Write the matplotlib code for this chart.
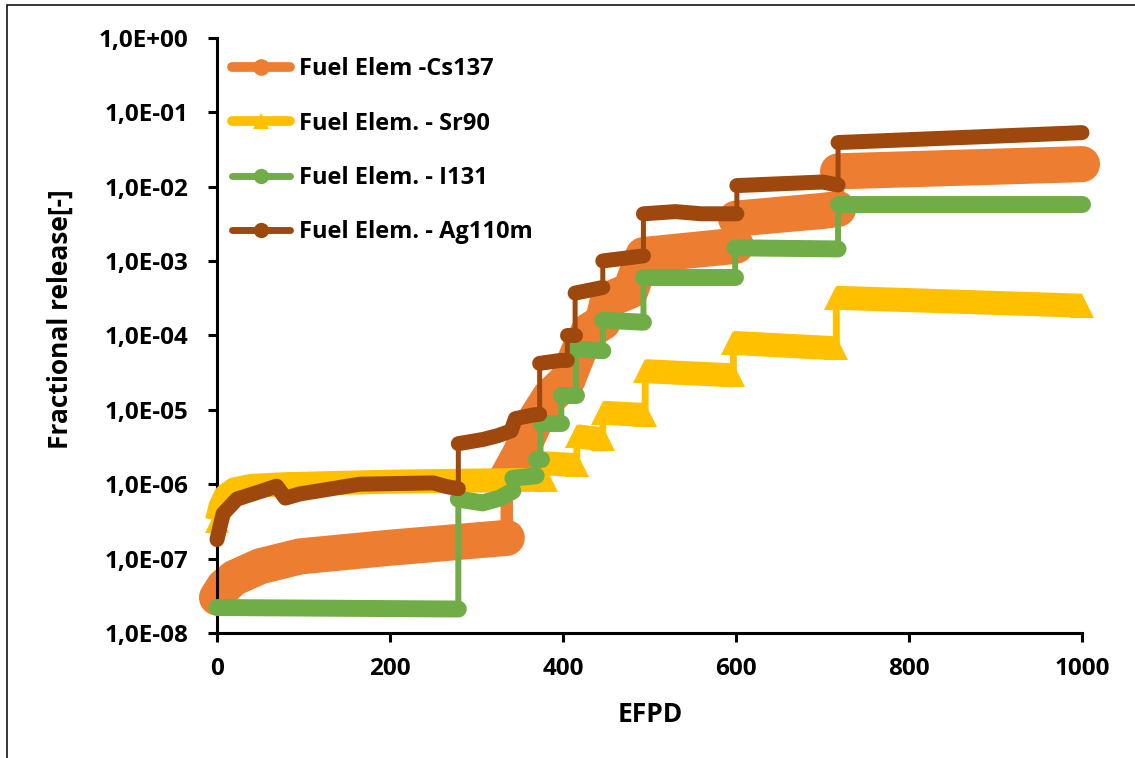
import matplotlib
matplotlib.use('Agg')
import matplotlib.pyplot as plt
from matplotlib.lines import Line2D
from matplotlib.patches import Rectangle

# ---------------- data ----------------
cs_x = [0, 8, 20, 50, 96, 200, 335, 335, 350, 370, 385, 405, 418, 430, 446, 452, 478, 493,
        600, 600, 700, 718, 718, 1000]
cs_y = [3.0e-8, 4.2e-8, 5.5e-8, 7.9e-8, 1.07e-7, 1.4e-7, 1.9e-7, 1.2e-6, 2.5e-6, 8.0e-6,
        1.5e-5, 2.5e-5, 6.0e-5, 1.15e-4, 1.5e-4, 3.0e-4, 4.0e-4, 1.2e-3,
        1.6e-3, 3.7e-3, 4.7e-3, 5.0e-3, 1.6e-2, 2.0e-2]

sr_x = [0, 4, 10, 20, 40, 80, 200, 380, 380, 416, 416, 446, 446, 495, 495, 597, 597, 716,
        716, 1000]
sr_y = [3.2e-7, 5.0e-7, 7.0e-7, 8.5e-7, 9.5e-7, 1.0e-6, 1.08e-6, 1.15e-6, 1.9e-6, 1.8e-6,
        4.4e-6, 4.0e-6, 9.1e-6, 8.5e-6, 3.3e-5, 2.9e-5, 7.9e-5, 6.7e-5, 3.2e-4, 2.5e-4]

i_x = [0, 279, 279, 307, 327, 342, 342, 369, 369, 374, 374, 398, 398, 415, 415, 446, 446,
       493, 493, 599, 599, 718, 718, 1000]
i_y = [2.2e-8, 2.1e-8, 6.3e-7, 5.6e-7, 6.5e-7, 8.1e-7, 1.2e-6, 1.3e-6, 2.2e-6, 2.2e-6,
       6.6e-6, 6.6e-6, 1.6e-5, 1.6e-5, 6.6e-5, 6.2e-5, 1.6e-4, 1.5e-4, 6.0e-4, 6.0e-4,
       1.5e-3, 1.45e-3, 5.9e-3, 5.9e-3]

ag_x = [0, 7, 23, 69, 79, 96, 165, 250, 265, 279, 279, 308, 325, 340, 345, 365, 373, 373,
        397, 405, 405, 414, 414, 446, 446, 493, 493, 530, 560, 601, 601, 700, 718, 718, 1000]
ag_y = [1.8e-7, 4.0e-7, 6.3e-7, 9.4e-7, 6.5e-7, 7.4e-7, 1.0e-6, 1.04e-6, 9.3e-7, 8.7e-7,
        3.5e-6, 4.0e-6, 4.5e-6, 5.2e-6, 7.6e-6, 8.5e-6, 8.7e-6, 4.2e-5, 4.6e-5, 4.6e-5,
        1.0e-4, 1.0e-4, 3.7e-4, 4.4e-4, 1.0e-3, 1.17e-3, 4.3e-3, 4.6e-3, 4.3e-3, 4.3e-3,
        1.03e-2, 1.15e-2, 1.05e-2, 3.9e-2, 5.3e-2]

labels = ["Fuel Elem -Cs137", "Fuel Elem. - Sr90", "Fuel Elem. - I131", "Fuel Elem. - Ag110m"]
colors = ["#ED7D31", "#FFC000", "#70AD47", "#9E480E"]
x_ticks = [0, 200, 400, 600, 800, 1000]
y_ticks = [1e-8, 1e-7, 1e-6, 1e-5, 1e-4, 1e-3, 1e-2, 1e-1, 1e0]
y_tick_labels = ["1,0E-08", "1,0E-07", "1,0E-06", "1,0E-05", "1,0E-04",
                 "1,0E-03", "1,0E-02", "1,0E-01", "1,0E+00"]

# ---------------- plotting ----------------
plt.rcParams['font.family'] = ['Open Sans', 'DejaVu Sans']
plt.rcParams['font.weight'] = 'bold'
FS_TICK = 17.5
FS_LEG = 17
FS_LAB = 19

W, H = 1135, 758
fig = plt.figure(figsize=(W / 100, H / 100), dpi=100)
ax = fig.add_axes([217 / W, 1 - 633 / H, (1082 - 217) / W, (633 - 37.7) / H])


def runs(xs):
    out, cur = [], None
    for i in range(len(xs) - 1):
        if xs[i + 1] > xs[i]:
            if cur is None:
                cur = [i]
            cur.append(i + 1)
        else:
            if cur:
                out.append(cur)
            cur = None
    if cur:
        out.append(cur)
    return out


def draw_round(xs, ys, color, thin, band, z):
    ax.plot(xs, ys, color=color, lw=thin, solid_capstyle='round',
            solid_joinstyle='round', clip_on=False, zorder=z)
    for r in runs(xs):
        ax.plot([xs[k] for k in r], [ys[k] for k in r], color=color, lw=band,
                solid_capstyle='round', solid_joinstyle='round', clip_on=False, zorder=z)


def draw_tri(xs, ys, color, thin, band, z):
    ax.plot(xs, ys, color=color, lw=thin, solid_capstyle='butt',
            solid_joinstyle='miter', clip_on=False, zorder=z)
    for r in runs(xs):
        rx = [xs[k] for k in r]
        ry = [ys[k] for k in r]
        ax.plot(rx, ry, color=color, lw=band, solid_capstyle='butt',
                solid_joinstyle='round', clip_on=False, zorder=z)
        ax.plot([rx[0], rx[-1]], [ry[0], ry[-1]], ls='none', marker='^', ms=band,
                color=color, mew=0, clip_on=False, zorder=z)


draw_round(cs_x, cs_y, colors[0], 9, 26, 2)
draw_tri(sr_x, sr_y, colors[1], 5, 17.3, 3)
draw_round(i_x, i_y, colors[2], 4.3, 12.2, 4)
draw_round(ag_x, ag_y, colors[3], 3.6, 10.8, 5)

ax.set_yscale('log')
ax.set_ylim(1e-8, 1)
ax.set_xlim(0, 1000)
ax.set_yticks(y_ticks)
ax.set_yticklabels(y_tick_labels)
ax.set_xticks(x_ticks)
ax.set_xticklabels([str(v) for v in x_ticks])
ax.minorticks_off()
ax.tick_params(axis='both', direction='out', length=6.5, width=2.2, labelsize=FS_TICK,
               pad=14, colors='black')
ax.tick_params(axis='x', pad=11)
for s in ['top', 'right']:
    ax.spines[s].set_visible(False)
for s in ['left', 'bottom']:
    ax.spines[s].set_linewidth(2.2)
ax.patch.set_alpha(0)

fig.text(60 / W, 1 - 319 / H, "Fractional release[-]", rotation=90, ha='center',
         va='center', fontsize=FS_LAB, fontweight='bold')
fig.text(650 / W, 1 - 715 / H, "EFPD", ha='center', va='center', fontsize=FS_LAB,
         fontweight='bold')

handles = [
    Line2D([], [], color=colors[0], lw=7, marker='o', ms=12, mew=0, solid_capstyle='round'),
    Line2D([], [], color=colors[1], lw=7, marker='^', ms=12, mew=0, solid_capstyle='round'),
    Line2D([], [], color=colors[2], lw=5, marker='o', ms=11, mew=0, solid_capstyle='round'),
    Line2D([], [], color=colors[3], lw=5, marker='o', ms=11, mew=0, solid_capstyle='round'),
]
ax.legend(handles, labels, loc='upper left', bbox_to_anchor=(0.017, 0.967),
          frameon=False, fontsize=FS_LEG, handlelength=2.45, handletextpad=0.42,
          labelspacing=1.28, borderpad=0, borderaxespad=0)

fig.patches.append(Rectangle((7 / W, -0.5), 1.5, 0.5 + 1 - 5 / H,
                             transform=fig.transFigure, fill=False, ec='black', lw=1.1))

fig.savefig('out.png', dpi=100)
